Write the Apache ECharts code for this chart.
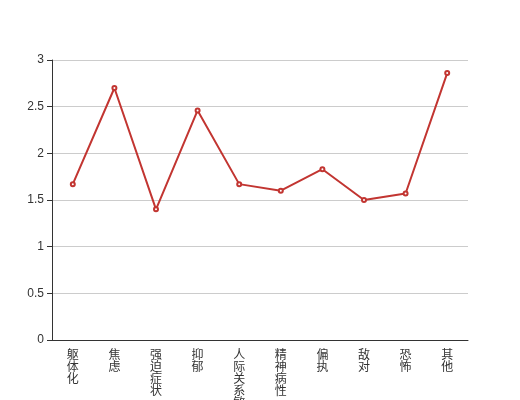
<!DOCTYPE html>
<html><head><meta charset="utf-8">
<script src="https://cdn.jsdelivr.net/npm/echarts@6/dist/echarts.min.js"></script>
<style>html,body{margin:0;padding:0;background:#fff}#c{width:520px;height:400px}</style>
</head><body><div id="c"></div>
<script>
const categories = ['躯体化','焦虑','强迫症状','抑郁','人际关系敏感','精神病性','偏执','敌对','恐怖','其他'];
const values = [1.67, 2.70, 1.40, 2.46, 1.67, 1.60, 1.83, 1.50, 1.57, 2.86];
const yTicks = [0, 0.5, 1, 1.5, 2, 2.5, 3];
const chart = echarts.init(document.getElementById('c'), null, {renderer:'canvas'});
chart.setOption({
  animation:false,
  grid:{left:52,right:52,top:60,bottom:60,containLabel:false,outerBoundsMode:'none'},
  xAxis:{type:'category',data:categories,boundaryGap:true,
    axisLine:{lineStyle:{color:'#333'}},axisTick:{lineStyle:{color:'#333'}},
    axisLabel:{color:'#333',fontSize:12,lineHeight:12,interval:0,fontFamily:'Noto Sans CJK SC',
      formatter:v=>v.split('').join('\n')}},
  yAxis:{type:'value',min:yTicks[0],max:yTicks[yTicks.length-1],interval:0.5,
    axisLine:{show:true,lineStyle:{color:'#333'}},axisTick:{show:true,lineStyle:{color:'#333'}},
    axisLabel:{color:'#333',fontSize:12},
    splitLine:{lineStyle:{color:'#ccc'}}},
  series:[{type:'line',data:values,symbol:'emptyCircle',symbolSize:4,
    itemStyle:{color:'#c23531'},lineStyle:{width:2,color:'#c23531'}}]
});
</script></body></html>
